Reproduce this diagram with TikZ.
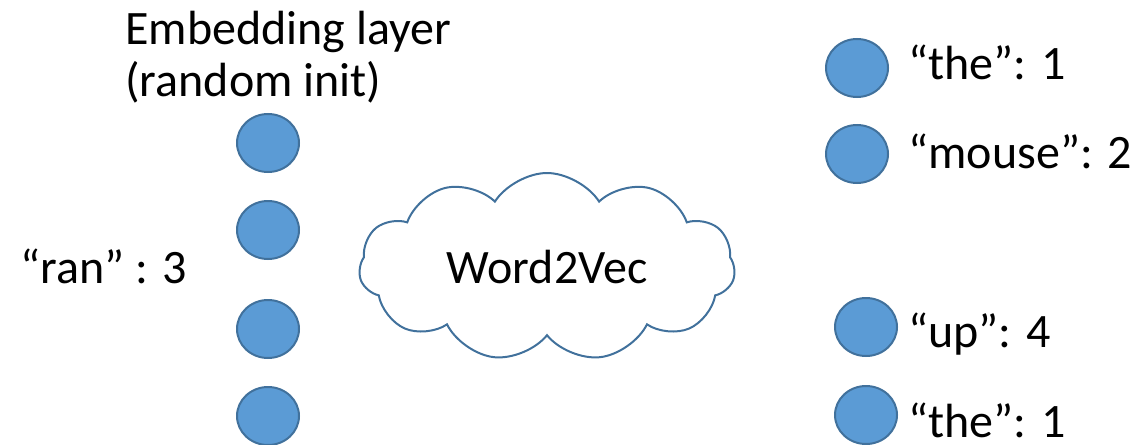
\documentclass[tikz,border=0pt]{standalone}
\usepackage{fontspec}
\setmainfont{Carlito}
\usetikzlibrary{shapes.geometric,shapes.symbols}
\definecolor{unitfill}{HTML}{5B9BD5}
\definecolor{unitline}{HTML}{41719C}
\tikzset{
  unit/.style={ellipse, draw=unitline, fill=unitfill, line width=1pt,
    minimum width=31pt, minimum height=29pt, inner sep=0pt},
  word/.style={anchor=base west, inner sep=0pt, font=\fontsize{24}{26}\selectfont},
}
\begin{document}
\begin{tikzpicture}[x=0.5pt, y=-0.5pt]
    % Рамка
    \useasboundingbox (0,0) rectangle (1143,444);

    % Слой эмбеддингов
    \node[word, align=left] (title) at (125,97) {Embedding layer\\(random init)};
    \foreach \i/\y in {1/143, 2/230, 3/329, 4/416}
        \node[unit] (emb\i) at (268,\y) {};
    \node[word] (ran) at (20,283) {“ran” : 3};

    % Облако
    \node[cloud, cloud puffs=11, cloud puff arc=115, cloud ignores aspect,
          draw=unitline, line width=1pt, minimum width=188pt, minimum height=94pt,
          font=\fontsize{24}{26}\selectfont] (w2v) at (547,267) {Word2Vec};

    % Словарь
    \node[unit] (voc1) at (857,68) {};
    \node[unit] (voc2) at (857,154) {};
    \node[unit] (voc3) at (866,327) {};
    \node[unit] (voc4) at (866,415) {};
    \node[word] (the1) at (908,80) {“the”: 1};
    \node[word] (mouse) at (908,168) {“mouse”: 2};
    \node[word] (up) at (908,347) {“up”: 4};
    \node[word] (the2) at (908,437) {“the”: 1};
\end{tikzpicture}
\end{document}
